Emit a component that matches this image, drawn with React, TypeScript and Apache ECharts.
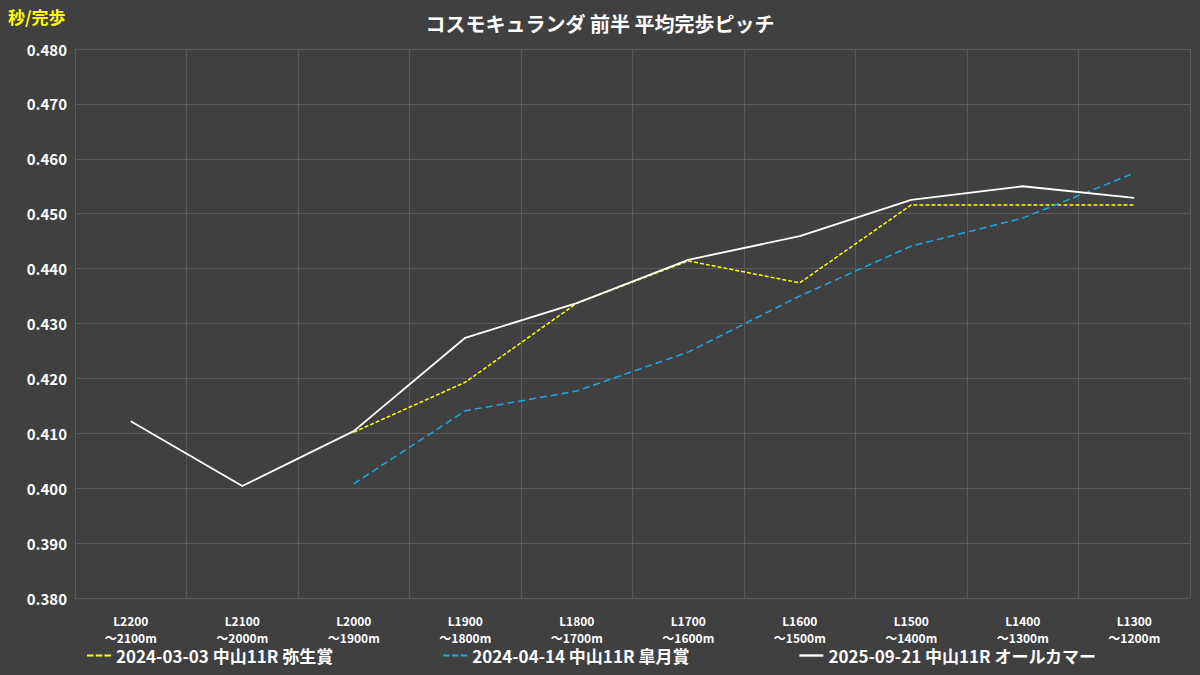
import React, { useEffect, useRef } from 'react';
import * as echarts from 'echarts';

const categories = [
  'L2200\n～2100m', 'L2100\n～2000m', 'L2000\n～1900m', 'L1900\n～1800m', 'L1800\n～1700m',
  'L1700\n～1600m', 'L1600\n～1500m', 'L1500\n～1400m', 'L1400\n～1300m', 'L1300\n～1200m',
];
const yayoi = [null, null, 0.4102, 0.4193, 0.4337, 0.4414, 0.4374, 0.4516, 0.4516, 0.4516];
const satsuki = [null, null, 0.4008, 0.4141, 0.4177, 0.4248, 0.435, 0.4441, 0.4492, 0.4574];
const allComers = [0.4122, 0.4004, 0.4104, 0.4274, 0.4337, 0.4416, 0.4459, 0.4525, 0.455, 0.4529];

const font = "'Noto Sans CJK JP', 'Noto Sans', sans-serif";

export default function App() {
  const chartRef = useRef<HTMLDivElement>(null);

  useEffect(() => {
    if (!chartRef.current) return;
    const chart = echarts.init(chartRef.current, null, { renderer: 'svg' });
    chart.setOption({
      animation: false,
      backgroundColor: '#404040',
      textStyle: { fontFamily: font },
      title: {
        text: 'コスモキュランダ 前半 平均完歩ピッチ',
        left: 'center',
        top: 8,
        textStyle: { color: '#ffffff', fontSize: 20, fontWeight: 'bold', fontFamily: font },
      },
      graphic: [
        {
          type: 'text', left: 8, top: 8,
          style: { text: '秒/完歩', fill: '#ffff00', font: `bold 17px ${font}` },
        },
      ],
      legend: {
        bottom: 6,
        left: 82,
        itemGap: 110,
        itemWidth: 24,
        textStyle: { color: '#ffffff', fontSize: 17, fontWeight: 'bold' },
        data: [
          { name: '2024-03-03 中山11R 弥生賞', icon: 'path://M0,0H3V1H0ZM4,0H7V1H4ZM8,0H11V1H8Z' },
          { name: '2024-04-14 中山11R 皐月賞', icon: 'path://M0,0H3V1H0ZM4,0H7V1H4ZM8,0H11V1H8Z' },
          { name: '2025-09-21 中山11R オールカマー', icon: 'path://M0,0H10V1H0Z' },
        ],
      },
      grid: { left: 75, right: 10, top: 49, bottom: 77 },
      xAxis: {
        type: 'category',
        data: categories,
        boundaryGap: true,
        axisLine: { show: false },
        axisTick: { show: false },
        splitLine: { show: true, interval: 0, lineStyle: { color: '#5a5a5a' } },
        axisLabel: { color: '#ffffff', fontSize: 12, fontWeight: 'bold', interval: 0, margin: 14, lineHeight: 17 },
      },
      yAxis: {
        type: 'value',
        min: 0.38,
        max: 0.48,
        interval: 0.01,
        axisLine: { show: false },
        axisTick: { show: false },
        splitLine: { lineStyle: { color: '#5a5a5a' } },
        axisLabel: { color: '#ffffff', fontSize: 15, fontWeight: 'bold', formatter: (v: number) => v.toFixed(3) },
      },
      series: [
        {
          name: '2024-03-03 中山11R 弥生賞', type: 'line', data: yayoi, showSymbol: false,
          lineStyle: { color: '#ffff00', width: 1.5, type: [4, 2] }, itemStyle: { color: '#ffff00' },
        },
        {
          name: '2024-04-14 中山11R 皐月賞', type: 'line', data: satsuki, showSymbol: false,
          lineStyle: { color: '#1ea7e1', width: 1.5, type: [7, 4] }, itemStyle: { color: '#1ea7e1' },
        },
        {
          name: '2025-09-21 中山11R オールカマー', type: 'line', data: allComers, showSymbol: false,
          lineStyle: { color: '#ffffff', width: 1.8 }, itemStyle: { color: '#ffffff' },
        },
      ],
    });
    return () => chart.dispose();
  }, []);

  return <div ref={chartRef} style={{ position: 'fixed', left: 0, top: 0, width: 1200, height: 675 }} />;
}
